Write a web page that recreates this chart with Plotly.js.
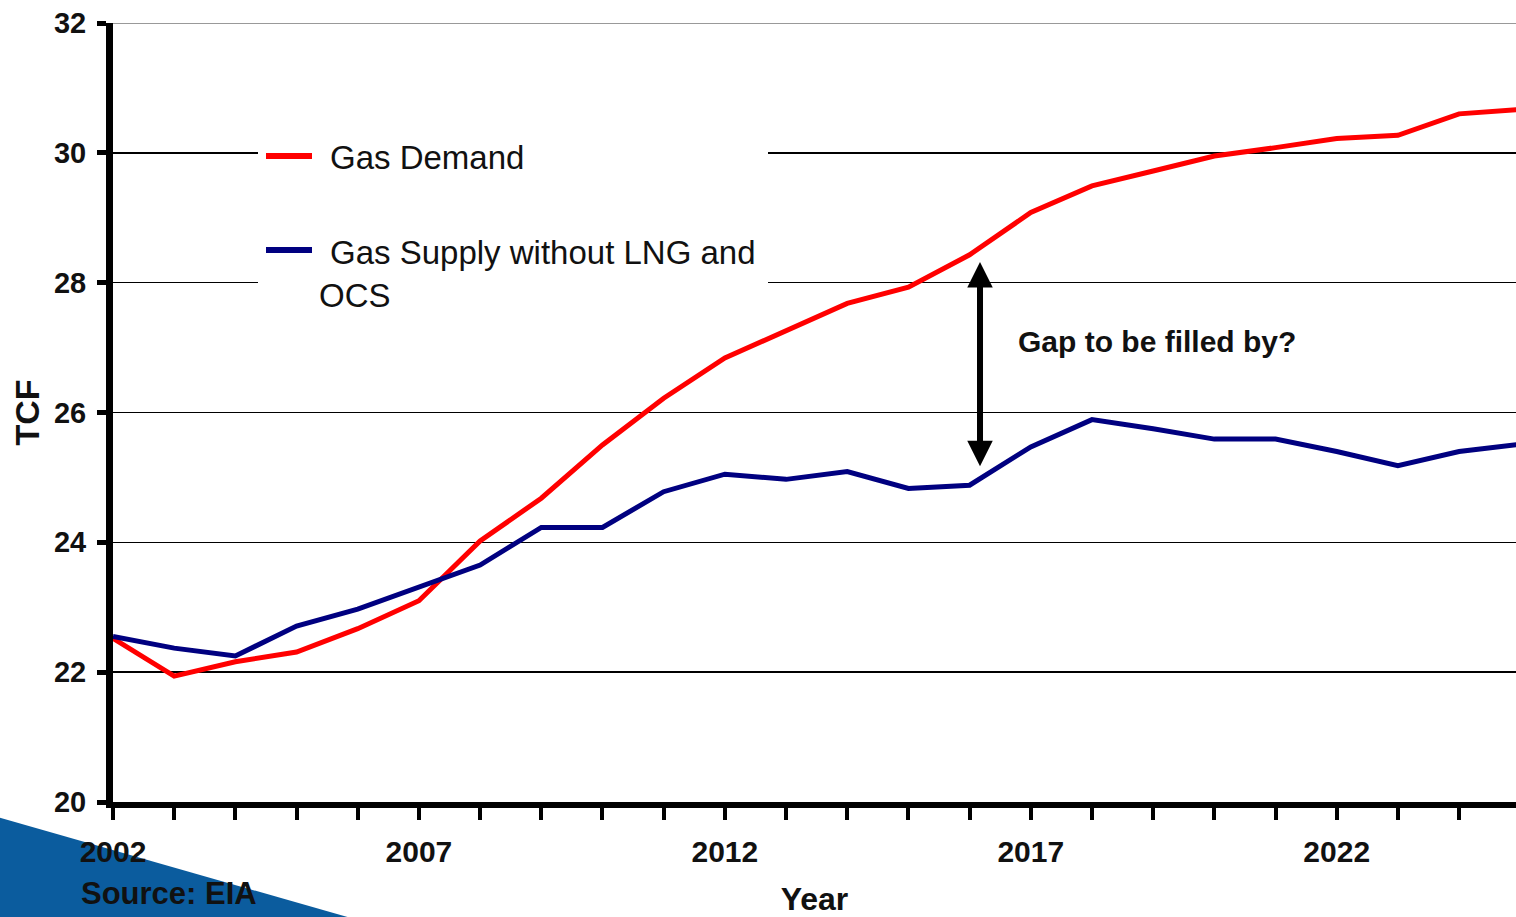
<!DOCTYPE html>
<html>
<head>
<meta charset="utf-8">
<script src="https://cdn.plot.ly/plotly-3.0.1.min.js"></script>
<style>html,body{margin:0;padding:0;background:#fff;}#chart{width:1516px;height:917px;}</style>
</head>
<body>
<div id="chart"></div>
<script>
// ---- data ----
const years = [2002,2003,2004,2005,2006,2007,2008,2009,2010,2011,2012,2013,2014,2015,2016,2017,2018,2019,2020,2021,2022,2023,2024,2025];
const gasDemand = [22.52,21.94,22.16,22.31,22.67,23.10,24.02,24.68,25.50,26.22,26.84,27.27,27.68,27.93,28.43,29.08,29.49,29.72,29.95,30.08,30.22,30.27,30.60,30.67];
const gasSupply = [22.55,22.37,22.25,22.71,22.97,23.31,23.65,24.23,24.23,24.78,25.05,24.97,25.09,24.83,24.88,25.47,25.89,25.75,25.59,25.59,25.40,25.18,25.40,25.51];
const seriesNames = ['Gas Demand', 'Gas Supply without LNG and', 'OCS'];
const yTicks = [20,22,24,26,28,30,32];
const gapLabel = 'Gap to be filled by?';
const gapTop = 28.32, gapBottom = 25.15, gapYear = 2016.17;
const sourceLabel = 'Source: EIA';

// ---- layout helpers (pixel -> paper) ----
const L = 113, T = 23, W = 1403, H = 779;
const px = v => (v - L) / W;
const py = v => (T + H - v) / H;
const FONT = 'Arial, "Liberation Sans", sans-serif';

const traces = [
  {x: years, y: gasDemand, type: 'scatter', mode: 'lines', name: 'Gas Demand',
   line: {color: '#ff0000', width: 5}, showlegend: false, hoverinfo: 'x+y'},
  {x: years, y: gasSupply, type: 'scatter', mode: 'lines', name: 'Gas Supply without LNG and OCS',
   line: {color: '#000080', width: 5}, showlegend: false, hoverinfo: 'x+y'}
];

const layout = {
  width: 1516, height: 917,
  margin: {l: L, r: 0, t: T, b: 917 - T - H},
  paper_bgcolor: '#ffffff', plot_bgcolor: '#ffffff',
  font: {family: FONT, color: '#000'},
  xaxis: {
    range: [2002, 2024.93], tick0: 2002, dtick: 5, ticks: 'outside', ticklen: 12, tickwidth: 4, tickcolor: '#000',
    showline: true, linewidth: 6, linecolor: '#000', showgrid: false, zeroline: false,
    tickfont: {size: 30, weight: 700, color: '#111'}, ticklabelstandoff: 6,
    minor: {dtick: 1, tick0: 2002, ticks: 'outside', ticklen: 12, tickwidth: 4, tickcolor: '#000', showgrid: false},
    title: {text: 'Year', font: {size: 32, weight: 700, color: '#111'}, standoff: 28}
  },
  yaxis: {
    range: [20, 32], tickvals: yTicks, ticks: 'outside', ticklen: 9, tickwidth: 5, tickcolor: '#000',
    showline: true, linewidth: 7, linecolor: '#000', showgrid: true, gridcolor: '#000', gridwidth: 1.5, zeroline: false,
    tickfont: {size: 29, weight: 700, color: '#111'}, ticklabelstandoff: 5,
    title: {text: 'TCF', font: {size: 34, weight: 700, color: '#111'}, standoff: 7}
  },
  shapes: [
    // blue corner band
    {type: 'path', xref: 'paper', yref: 'paper', layer: 'below',
     path: `M ${px(-10)},${py(815)} L ${px(358)},${py(920)} L ${px(-10)},${py(920)} Z`,
     fillcolor: '#0b5c9e', line: {width: 0}},
    // top gridline (lighter in the reference)
    {type: 'line', xref: 'paper', yref: 'y', x0: 0, x1: 1, y0: yTicks[yTicks.length - 1], y1: yTicks[yTicks.length - 1],
     layer: 'below', line: {color: '#777', width: 1.5}},
    // legend background
    {type: 'rect', xref: 'paper', yref: 'paper', layer: 'above',
     x0: px(258), x1: px(768), y0: py(112), y1: py(318), fillcolor: '#ffffff', line: {width: 0}},
    // legend samples
    {type: 'line', xref: 'paper', yref: 'paper', layer: 'above',
     x0: px(266), x1: px(312), y0: py(156), y1: py(156), line: {color: '#ff0000', width: 6}},
    {type: 'line', xref: 'paper', yref: 'paper', layer: 'above',
     x0: px(266), x1: px(312), y0: py(250), y1: py(250), line: {color: '#000080', width: 6}}
  ],
  annotations: [
    {xref: 'paper', yref: 'paper', x: px(328), y: py(157), xanchor: 'left', yanchor: 'middle', showarrow: false,
     text: seriesNames[0], font: {size: 33, color: '#111'}},
    {xref: 'paper', yref: 'paper', x: px(328), y: py(252), xanchor: 'left', yanchor: 'middle', showarrow: false,
     text: seriesNames[1], font: {size: 33, color: '#111'}},
    {xref: 'paper', yref: 'paper', x: px(317), y: py(296), xanchor: 'left', yanchor: 'middle', showarrow: false,
     text: seriesNames[2], font: {size: 33, color: '#111'}},
    {xref: 'paper', yref: 'paper', x: px(1016), y: py(342), xanchor: 'left', yanchor: 'middle', showarrow: false,
     text: gapLabel, font: {size: 30, weight: 700, color: '#111'}},
    {xref: 'x', yref: 'y', axref: 'x', ayref: 'y', x: gapYear, y: gapTop, ax: gapYear, ay: gapBottom,
     text: '', showarrow: true, arrowside: 'end+start', arrowhead: 2, startarrowhead: 2,
     arrowsize: 0.85, startarrowsize: 0.85, arrowwidth: 6, arrowcolor: '#000', standoff: 0, startstandoff: 0},
    {xref: 'paper', yref: 'paper', x: px(79), y: py(893), xanchor: 'left', yanchor: 'middle', showarrow: false,
     text: sourceLabel, font: {size: 31, weight: 700, color: '#111'}}
  ],
  showlegend: false
};

Plotly.newPlot('chart', traces, layout, {displayModeBar: false, staticPlot: true});
</script>
</body>
</html>
